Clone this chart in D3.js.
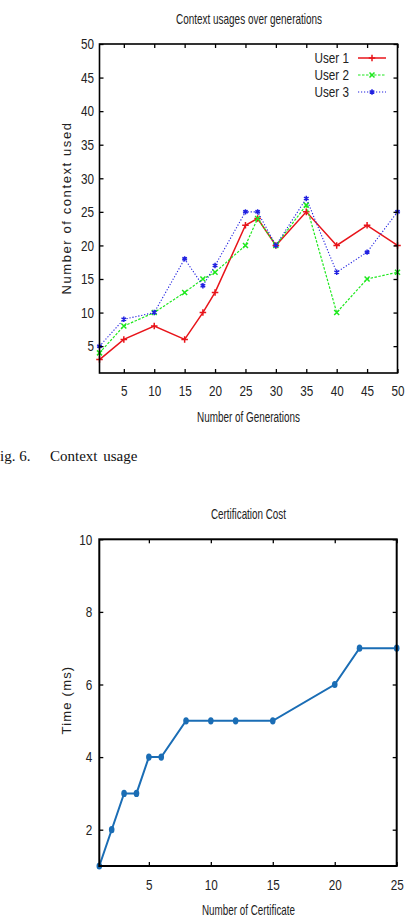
<!DOCTYPE html>
<html>
<head>
<meta charset="utf-8">
<script src="https://cdn.jsdelivr.net/npm/d3@7"></script>
<style>
  body { margin: 0; background: #fff; }
  svg { display: block; }
</style>
</head>
<body>
<svg id="page"></svg>
<script>
// chart 1: context usage
const generations = [1, 5, 10, 15, 18, 20, 25, 27, 30, 35, 40, 45, 50];
const user1 = [3, 6, 8, 6, 10, 13, 23, 24, 20, 25, 20, 23, 20];
const user2 = [4, 8, 10, 13, 15, 16, 20, 24, 20, 26, 10, 15, 16];
const user3 = [5, 9, 10, 18, 14, 17, 25, 25, 20, 27, 16, 19, 25];
const genTicks = [5, 10, 15, 20, 25, 30, 35, 40, 45, 50];
const usageTicks = [5, 10, 15, 20, 25, 30, 35, 40, 45, 50];
const userNames = ["User 1", "User 2", "User 3"];

// chart 2: certification cost
const certCounts = [1, 2, 3, 4, 5, 6, 8, 10, 12, 15, 20, 22, 25];
const certTimes = [1, 2, 3, 3, 4, 4, 5, 5, 5, 5, 6, 7, 7];
const certTicks = [5, 10, 15, 20, 25];
const timeTicks = [2, 4, 6, 8, 10];

// no narrow face installed, so regular Liberation Sans gets squeezed at the end
const narrow = "'Liberation Sans', Arial, sans-serif";
const wide = "'Liberation Sans', Arial, sans-serif";

const svg = d3.select("#page")
    .attr("width", 410)
    .attr("height", 922);

svg.append("rect").attr("width", 410).attr("height", 922).attr("fill", "#fff");

// draws the boxed frame with inward ticks on all four sides
function frame(g, x, y, xTicks, yTicks, opt) {
    const [x0, x1] = x.range();
    const [y0, y1] = y.range();

    g.append("g")
        .attr("transform", `translate(0,${y0})`)
        .call(d3.axisBottom(x).tickValues(xTicks).tickSizeInner(-4).tickSizeOuter(0).tickPadding(opt.xPad))
        .call(a => a.select(".domain").remove())
        .call(a => a.selectAll("line").attr("stroke-width", 1.3))
        .call(a => a.selectAll("text").attr("class", "nar").attr("font-family", narrow).attr("font-size", opt.fs).attr("fill", "#222"));

    g.append("g")
        .attr("transform", `translate(0,${y1})`)
        .call(d3.axisTop(x).tickValues(xTicks).tickSizeInner(-4).tickSizeOuter(0).tickFormat(""))
        .call(a => a.select(".domain").remove())
        .call(a => a.selectAll("line").attr("stroke-width", 1.3));

    g.append("g")
        .attr("transform", `translate(${x0},0)`)
        .call(d3.axisLeft(y).tickValues(yTicks).tickSizeInner(-4).tickSizeOuter(0).tickPadding(opt.yPad))
        .call(a => a.select(".domain").remove())
        .call(a => a.selectAll("line").attr("stroke-width", 1.3))
        .call(a => a.selectAll("text").attr("class", "nar").attr("font-family", narrow).attr("font-size", opt.fs).attr("fill", "#222"));

    g.append("g")
        .attr("transform", `translate(${x1},0)`)
        .call(d3.axisRight(y).tickValues(yTicks).tickSizeInner(-4).tickSizeOuter(0).tickFormat(""))
        .call(a => a.select(".domain").remove())
        .call(a => a.selectAll("line").attr("stroke-width", 1.3));

    g.append("rect")
        .attr("x", x0).attr("y", y1)
        .attr("width", x1 - x0).attr("height", y0 - y1)
        .attr("fill", "none")
        .attr("stroke", "#000")
        .attr("stroke-width", opt.frameW);
}

// squeezed label with a fixed width
function label(g, x, y, size, width, txt) {
    g.append("text")
        .attr("x", x).attr("y", y)
        .attr("text-anchor", "middle")
        .attr("font-family", narrow).attr("font-size", size)
        .attr("fill", "#222")
        .attr("textLength", width)
        .attr("lengthAdjust", "spacingAndGlyphs")
        .text(txt);
}

// ---------- chart 1 ----------
const g1 = svg.append("g");

const x1 = d3.scaleLinear().domain([1, 50]).range([99.5, 397.5]);
const y1 = d3.scaleLinear().domain([1, 50]).range([373, 44]);

const users = [
    { name: userNames[0], values: user1, color: "#e8141a", dash: null, width: 1.5, symbol: d3.symbolPlus, size: 16 },
    { name: userNames[1], values: user2, color: "#1ee81e", dash: "2.5,1.5", width: 1.2, symbol: d3.symbolTimes, size: 18 },
    { name: userNames[2], values: user3, color: "#2020e0", dash: "1.2,1.8", width: 1.1, symbol: d3.symbolAsterisk, size: 20 }
];

const line1 = d3.line()
    .x((d, i) => x1(generations[i]))
    .y(d => y1(d));

users.forEach(u => {
    g1.append("path")
        .datum(u.values)
        .attr("d", line1)
        .attr("fill", "none")
        .attr("stroke", u.color)
        .attr("stroke-width", u.width)
        .attr("stroke-dasharray", u.dash);

    g1.selectAll(null)
        .data(u.values)
        .join("path")
        .attr("transform", (d, i) => `translate(${x1(generations[i])},${y1(d)})`)
        .attr("d", d3.symbol(u.symbol, u.size))
        .attr("fill", "none")
        .attr("stroke", u.color)
        .attr("stroke-width", 1.5);
});

frame(g1, x1, y1, genTicks, usageTicks, { xPad: 12, yPad: 5.5, fs: 15, frameW: 1.6 });

label(g1, 249, 24, 15, 146, "Context usages over generations");
label(g1, 248.5, 421.5, 15.5, 103, "Number of Generations");

g1.append("text")
    .attr("transform", "translate(71,208) rotate(-90)")
    .attr("text-anchor", "middle")
    .attr("font-family", wide).attr("font-size", 13)
    .attr("letter-spacing", 1.6)
    .attr("fill", "#222")
    .text("Number of context used");

const legend = g1.selectAll(".legend")
    .data(users)
    .join("g")
    .attr("class", "legend")
    .attr("transform", (d, i) => `translate(0,${58 + i * 17})`);

legend.append("text")
    .attr("class", "nar")
    .attr("x", 349)
    .attr("dy", "0.35em")
    .attr("text-anchor", "end")
    .attr("font-family", narrow).attr("font-size", 15)
    .attr("fill", "#222")
    .text(d => d.name);

legend.append("line")
    .attr("x1", 358).attr("x2", 386)
    .attr("stroke", d => d.color)
    .attr("stroke-width", d => d.width)
    .attr("stroke-dasharray", d => d.dash);

legend.append("path")
    .attr("transform", "translate(372,0)")
    .attr("d", d => d3.symbol(d.symbol, d.size)())
    .attr("fill", "none")
    .attr("stroke", d => d.color)
    .attr("stroke-width", 1.5);

// caption
svg.append("text")
    .attr("x", 0).attr("y", 461)
    .attr("font-family", "'Liberation Serif', 'Times New Roman', serif")
    .attr("font-size", 15)
    .attr("fill", "#111")
    .text("ig. 6.");

svg.append("text")
    .attr("x", 50).attr("y", 461)
    .attr("font-family", "'Liberation Serif', 'Times New Roman', serif")
    .attr("font-size", 15)
    .attr("word-spacing", 2)
    .attr("fill", "#111")
    .text("Context usage");

// ---------- chart 2 ----------
const g2 = svg.append("g");

const x2 = d3.scaleLinear().domain([1, 25]).range([99.3, 396.7]);
const y2 = d3.scaleLinear().domain([1, 10]).range([866, 539.3]);

g2.append("path")
    .datum(certTimes)
    .attr("d", d3.line().x((d, i) => x2(certCounts[i])).y(d => y2(d)))
    .attr("fill", "none")
    .attr("stroke", "#1a6db5")
    .attr("stroke-width", 2);

g2.selectAll(".dot")
    .data(certTimes)
    .join("ellipse")
    .attr("class", "dot")
    .attr("cx", (d, i) => x2(certCounts[i]))
    .attr("cy", d => y2(d))
    .attr("rx", 2.8)
    .attr("ry", 3.6)
    .attr("fill", "#1a6db5");

frame(g2, x2, y2, certTicks, timeTicks, { xPad: 13.5, yPad: 7, fs: 15, frameW: 2 });

label(g2, 248.5, 519, 15, 75, "Certification Cost");
label(g2, 248.5, 915, 15, 93, "Number of Certificate");

g2.append("text")
    .attr("transform", "translate(71,700) rotate(-90)")
    .attr("text-anchor", "middle")
    .attr("font-family", wide).attr("font-size", 13)
    .attr("letter-spacing", 1.2)
    .attr("fill", "#222")
    .text("Time (ms)");

// fake a narrow face on ticks and legend: squeeze to ~78% of natural width
svg.selectAll("text.nar").each(function() {
    const w = this.getComputedTextLength();
    d3.select(this)
        .attr("textLength", w * 0.78)
        .attr("lengthAdjust", "spacingAndGlyphs");
});
</script>
</body>
</html>
